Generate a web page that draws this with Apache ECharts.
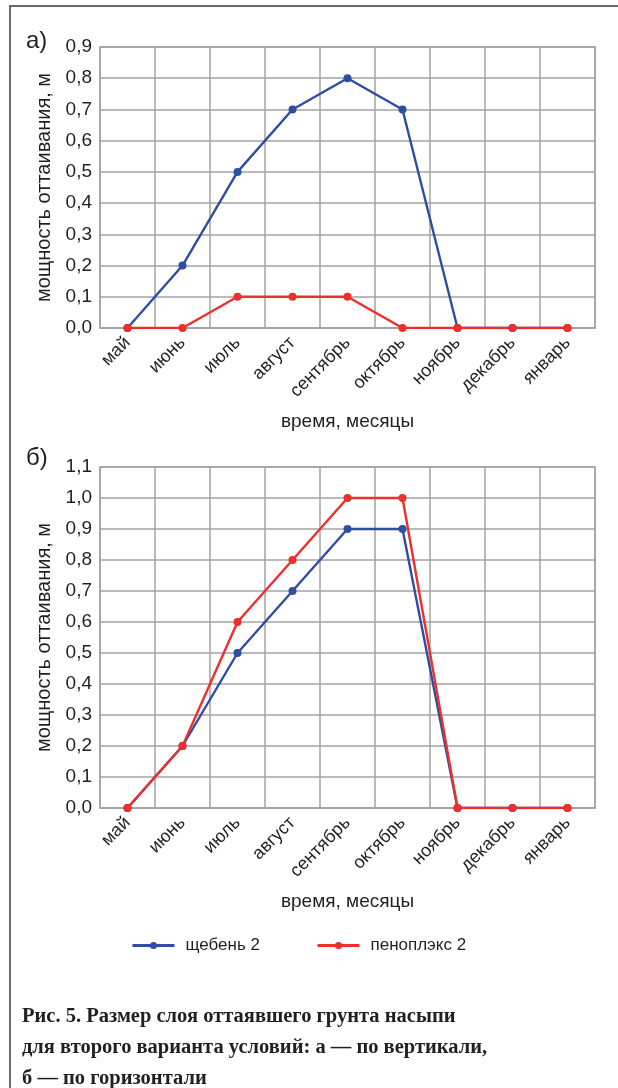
<!DOCTYPE html>
<html>
<head>
<meta charset="utf-8">
<script src="https://cdn.jsdelivr.net/npm/echarts@6/dist/echarts.min.js"></script>
<style>
  html, body { margin: 0; padding: 0; background: #fff; }
  #chart { width: 618px; height: 1088px; }
</style>
</head>
<body>
<div id="chart"></div>
<script>
const months = ['май', 'июнь', 'июль', 'август', 'сентябрь', 'октябрь', 'ноябрь', 'декабрь', 'январь'];

// а) по вертикали
const gravelA = [0, 0.2, 0.5, 0.7, 0.8, 0.7, 0, 0, 0];
const foamA = [0, 0, 0.1, 0.1, 0.1, 0, 0, 0, 0];
// б) по горизонтали
const gravelB = [0, 0.2, 0.5, 0.7, 0.9, 0.9, 0, 0, 0];
const foamB = [0, 0.2, 0.6, 0.8, 1.0, 1.0, 0, 0, 0];

const BLUE = '#2f4ea3';
const RED = '#ee2f2c';
const GRID = '#a3a3a3';
const TXT = '#231f20';
const FONT = '"Liberation Sans", Arial, sans-serif';

const chart = echarts.init(document.getElementById('chart'));

function xAxis(gridIndex) {
  return {
    type: 'category',
    gridIndex: gridIndex,
    data: months,
    boundaryGap: true,
    name: 'время, месяцы',
    nameLocation: 'middle',
    nameGap: 84,
    nameTextStyle: { color: TXT, fontSize: 19, fontFamily: FONT },
    axisLine: { show: true, lineStyle: { color: GRID, width: 1.5 } },
    axisTick: { show: false },
    axisLabel: { rotate: 45, margin: 12, color: TXT, fontSize: 18, fontFamily: FONT, interval: 0 },
    splitLine: { show: true, interval: 0, lineStyle: { color: GRID, width: 1.5 } }
  };
}

function yAxis(gridIndex, max) {
  return {
    type: 'value',
    gridIndex: gridIndex,
    min: 0,
    max: max,
    interval: 0.1,
    name: 'мощность оттаивания, м',
    nameLocation: 'middle',
    nameGap: 45,
    nameTextStyle: { color: TXT, fontSize: 20, fontFamily: FONT },
    axisLine: { show: false },
    axisTick: { show: false },
    axisLabel: {
      margin: 8, color: TXT, fontSize: 19, fontFamily: FONT,
      formatter: v => v.toFixed(1).replace('.', ',')
    },
    splitLine: { show: true, lineStyle: { color: GRID, width: 1.5 } }
  };
}

function line(name, color, data, idx) {
  return {
    name: name,
    type: 'line',
    xAxisIndex: idx,
    yAxisIndex: idx,
    data: data,
    symbol: 'circle',
    symbolSize: 8,
    showAllSymbol: true,
    itemStyle: { color: color },
    lineStyle: { color: color, width: 2.4 },
    animation: false
  };
}

chart.setOption({
  backgroundColor: '#fff',
  animation: false,
  grid: [
    { left: 100, top: 47, width: 495, height: 281, show: true, borderColor: GRID, borderWidth: 1.5 },
    { left: 100, top: 467, width: 495, height: 341, show: true, borderColor: GRID, borderWidth: 1.5 }
  ],
  xAxis: [xAxis(0), xAxis(1)],
  yAxis: [yAxis(0, 0.9), yAxis(1, 1.1)],
  legend: {
    left: 126,
    top: 932,
    itemWidth: 42,
    itemHeight: 9,
    itemGap: 56,
    data: ['щебень 2', 'пеноплэкс 2'],
    lineStyle: { width: 3 },
    textStyle: { color: TXT, fontSize: 17, fontFamily: FONT, padding: [0, 0, 0, 6] }
  },
  series: [
    line('щебень 2', BLUE, gravelA, 0),
    line('пеноплэкс 2', RED, foamA, 0),
    line('щебень 2', BLUE, gravelB, 1),
    line('пеноплэкс 2', RED, foamB, 1)
  ],
  graphic: [
    {
      type: 'rect',
      shape: { x: 10, y: 6, width: 640, height: 1120 },
      style: { fill: 'none', stroke: '#3a3a3a', lineWidth: 1.5 },
      silent: true
    },
    {
      type: 'text', left: 26, top: 29,
      style: { text: 'а)', fill: TXT, font: '24px ' + FONT }
    },
    {
      type: 'text', left: 26, top: 446,
      style: { text: 'б)', fill: TXT, font: '24px ' + FONT }
    },
    {
      type: 'text', left: 22, top: 1001,
      style: {
        text: 'Рис. 5. Размер слоя оттаявшего грунта насыпи\nдля второго варианта условий: а — по вертикали,\nб — по горизонтали',
        fill: TXT,
        font: 'bold 20.5px "Liberation Serif", "Times New Roman", serif',
        lineHeight: 31
      }
    }
  ]
});
</script>
</body>
</html>
